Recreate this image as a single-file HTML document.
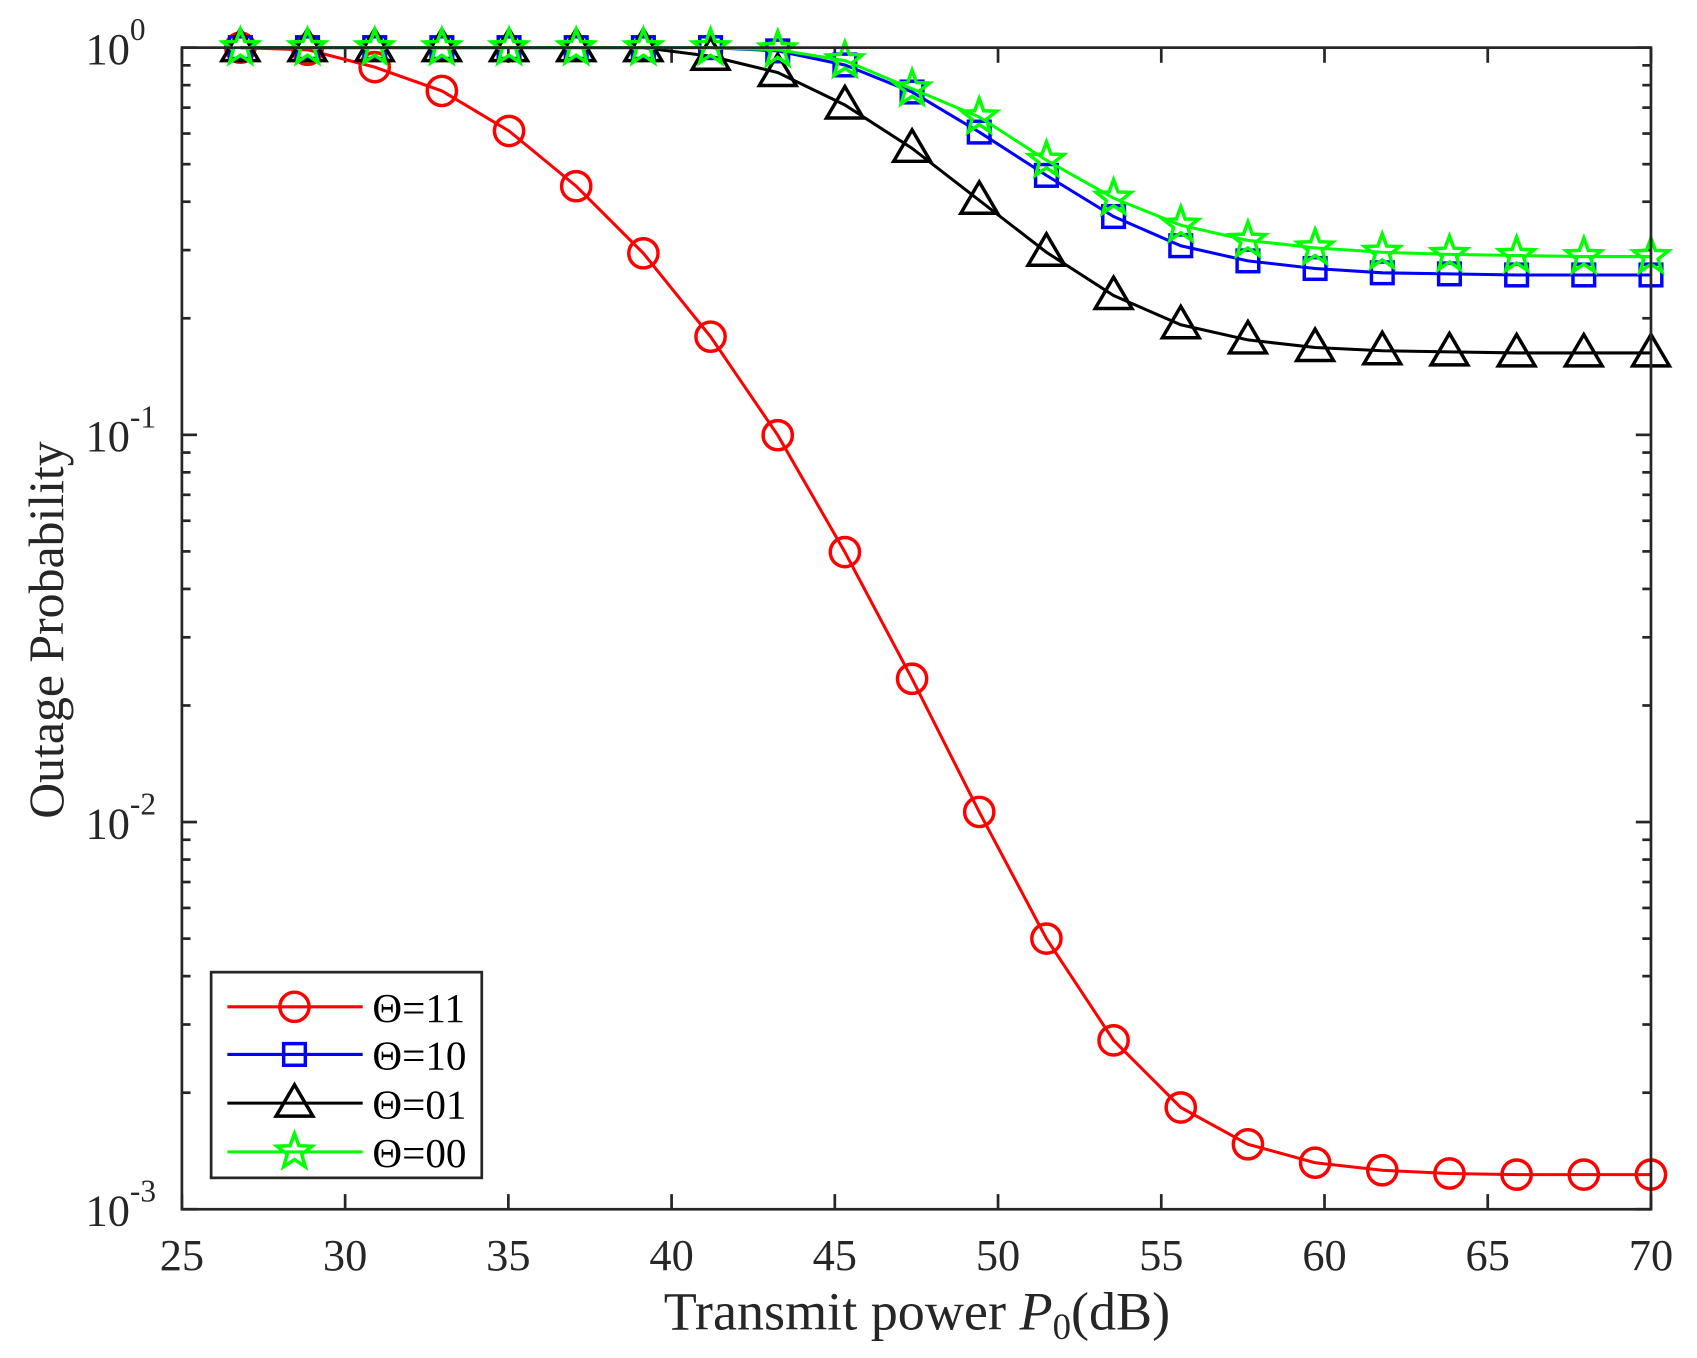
<!DOCTYPE html>
<html><head><meta charset="utf-8"><style>body{margin:0;background:#fff}svg{display:block}</style></head>
<body>
<svg id="s" width="1697" height="1358" viewBox="0 0 1567.5 1254.4" xmlns="http://www.w3.org/2000/svg" font-family="Liberation Serif, serif"></svg>
<script>
const s=document.getElementById('s');
const L=168,R=1525,T=44,B=1117,D=(B-T)/3;
let h='<rect width="1568" height="1255" fill="#fff"/>';
const X=v=>L+(v-25)*(R-L)/45;
for(let v=25;v<=70;v+=5){const x=X(v);h+=`<line x1="${x}" y1="${B}" x2="${x}" y2="${B-14}" stroke="#262626" stroke-width="2.5"/><line x1="${x}" y1="${T}" x2="${x}" y2="${T+14}" stroke="#262626" stroke-width="2.5"/><text x="${x}" y="${B+56}" font-size="41" text-anchor="middle" fill="#262626">${v}</text>`;}
for(let d=0;d<3;d++){for(let k=2;k<=9;k++){const y=B-d*D-Math.log10(k)*D;h+=`<line x1="${L}" y1="${y}" x2="${L+8}" y2="${y}" stroke="#262626" stroke-width="2.5"/><line x1="${R}" y1="${y}" x2="${R-8}" y2="${y}" stroke="#262626" stroke-width="2.5"/>`;}}
for(let d=0;d<=3;d++){const y=T+d*D;h+=`<line x1="${L}" y1="${y}" x2="${L+14}" y2="${y}" stroke="#262626" stroke-width="2.5"/><line x1="${R}" y1="${y}" x2="${R-14}" y2="${y}" stroke="#262626" stroke-width="2.5"/><text x="${L-48}" y="${y+15}" font-size="41" text-anchor="end" fill="#262626">10</text><text x="${L-48}" y="${y-7}" font-size="29" fill="#262626">${d?'-'+d:'0'}</text>`;}
const xs=[];for(let i=0;i<22;i++)xs.push(222+i*(1525-222)/21);
const red=[44,46,62,84,121,172,234,311,402,510,627,750,867,961,1023,1057,1074,1081,1084,1085,1085,1085];
const blue=[44,44,44,44,44,44,44,44,47,60,85,122,162,200,227,241,248,252,253,254,254,254];
const blk=[44,44,44,44,44,44,44,52,67,97,137,185,233,273,300,314,321,324,325,326,326,326];
const grn=[44,44,44,44,44,44,44,44,46,56,82,108,148,183,208,222,229,233,235,236,237,237];
function line(ys,c){return `<polyline fill="none" stroke="${c}" stroke-width="2.8" points="${ys.map((y,i)=>xs[i]+','+y).join(' ')}"/>`;}
function circ(x,y){return `<circle cx="${x}" cy="${y}" r="13.5" fill="none" stroke="#f00" stroke-width="3.2"/>`;}
function sq(x,y){return `<rect x="${x-10}" y="${y-10}" width="20" height="20" fill="none" stroke="#00f" stroke-width="3.2"/>`;}
function tri(x,y){return `<polygon points="${x},${y-17} ${x+17},${y+12} ${x-17},${y+12}" fill="none" stroke="#000" stroke-width="3.2"/>`;}
function star(x,y){let p=[];for(let i=0;i<10;i++){const r=i%2?7:17,a=-Math.PI/2+i*Math.PI/5;p.push((x+r*Math.cos(a)).toFixed(1)+','+(y+r*Math.sin(a)).toFixed(1));}return `<polygon points="${p.join(' ')}" fill="none" stroke="#0f0" stroke-width="3.2"/>`;}
const ser=[[red,'#f00',circ],[blue,'#00f',sq],[blk,'#000',tri],[grn,'#0f0',star]];
ser.forEach(([ys,c,m])=>{h+=line(ys,c);ys.forEach((y,i)=>h+=m(xs[i],y));});
h+=`<rect x="${L}" y="${T}" width="${R-L}" height="${B-T}" fill="none" stroke="#262626" stroke-width="2.5"/>`;
h+=`<rect x="195" y="898" width="250" height="190" fill="#fff" stroke="#262626" stroke-width="2.5"/>`;
const lab=['Θ=11','Θ=10','Θ=01','Θ=00'],ly=[930,974,1019,1064];
ser.forEach(([ys,c,m],i)=>{h+=`<line x1="210" y1="${ly[i]}" x2="335" y2="${ly[i]}" stroke="${c}" stroke-width="2.8"/>`+m(272,ly[i])+`<text x="344" y="${ly[i]+14}" font-size="38" fill="#000">${lab[i]}</text>`;});
h+=`<text x="847" y="1228" font-size="50" text-anchor="middle" fill="#262626">Transmit power <tspan font-style="italic">P</tspan><tspan font-size="34" dy="9">0</tspan><tspan dy="-9">(dB)</tspan></text>`;
h+=`<text transform="translate(58,582) rotate(-90)" font-size="46" text-anchor="middle" fill="#262626">Outage Probability</text>`;
s.innerHTML=h;
</script>
</body></html>
